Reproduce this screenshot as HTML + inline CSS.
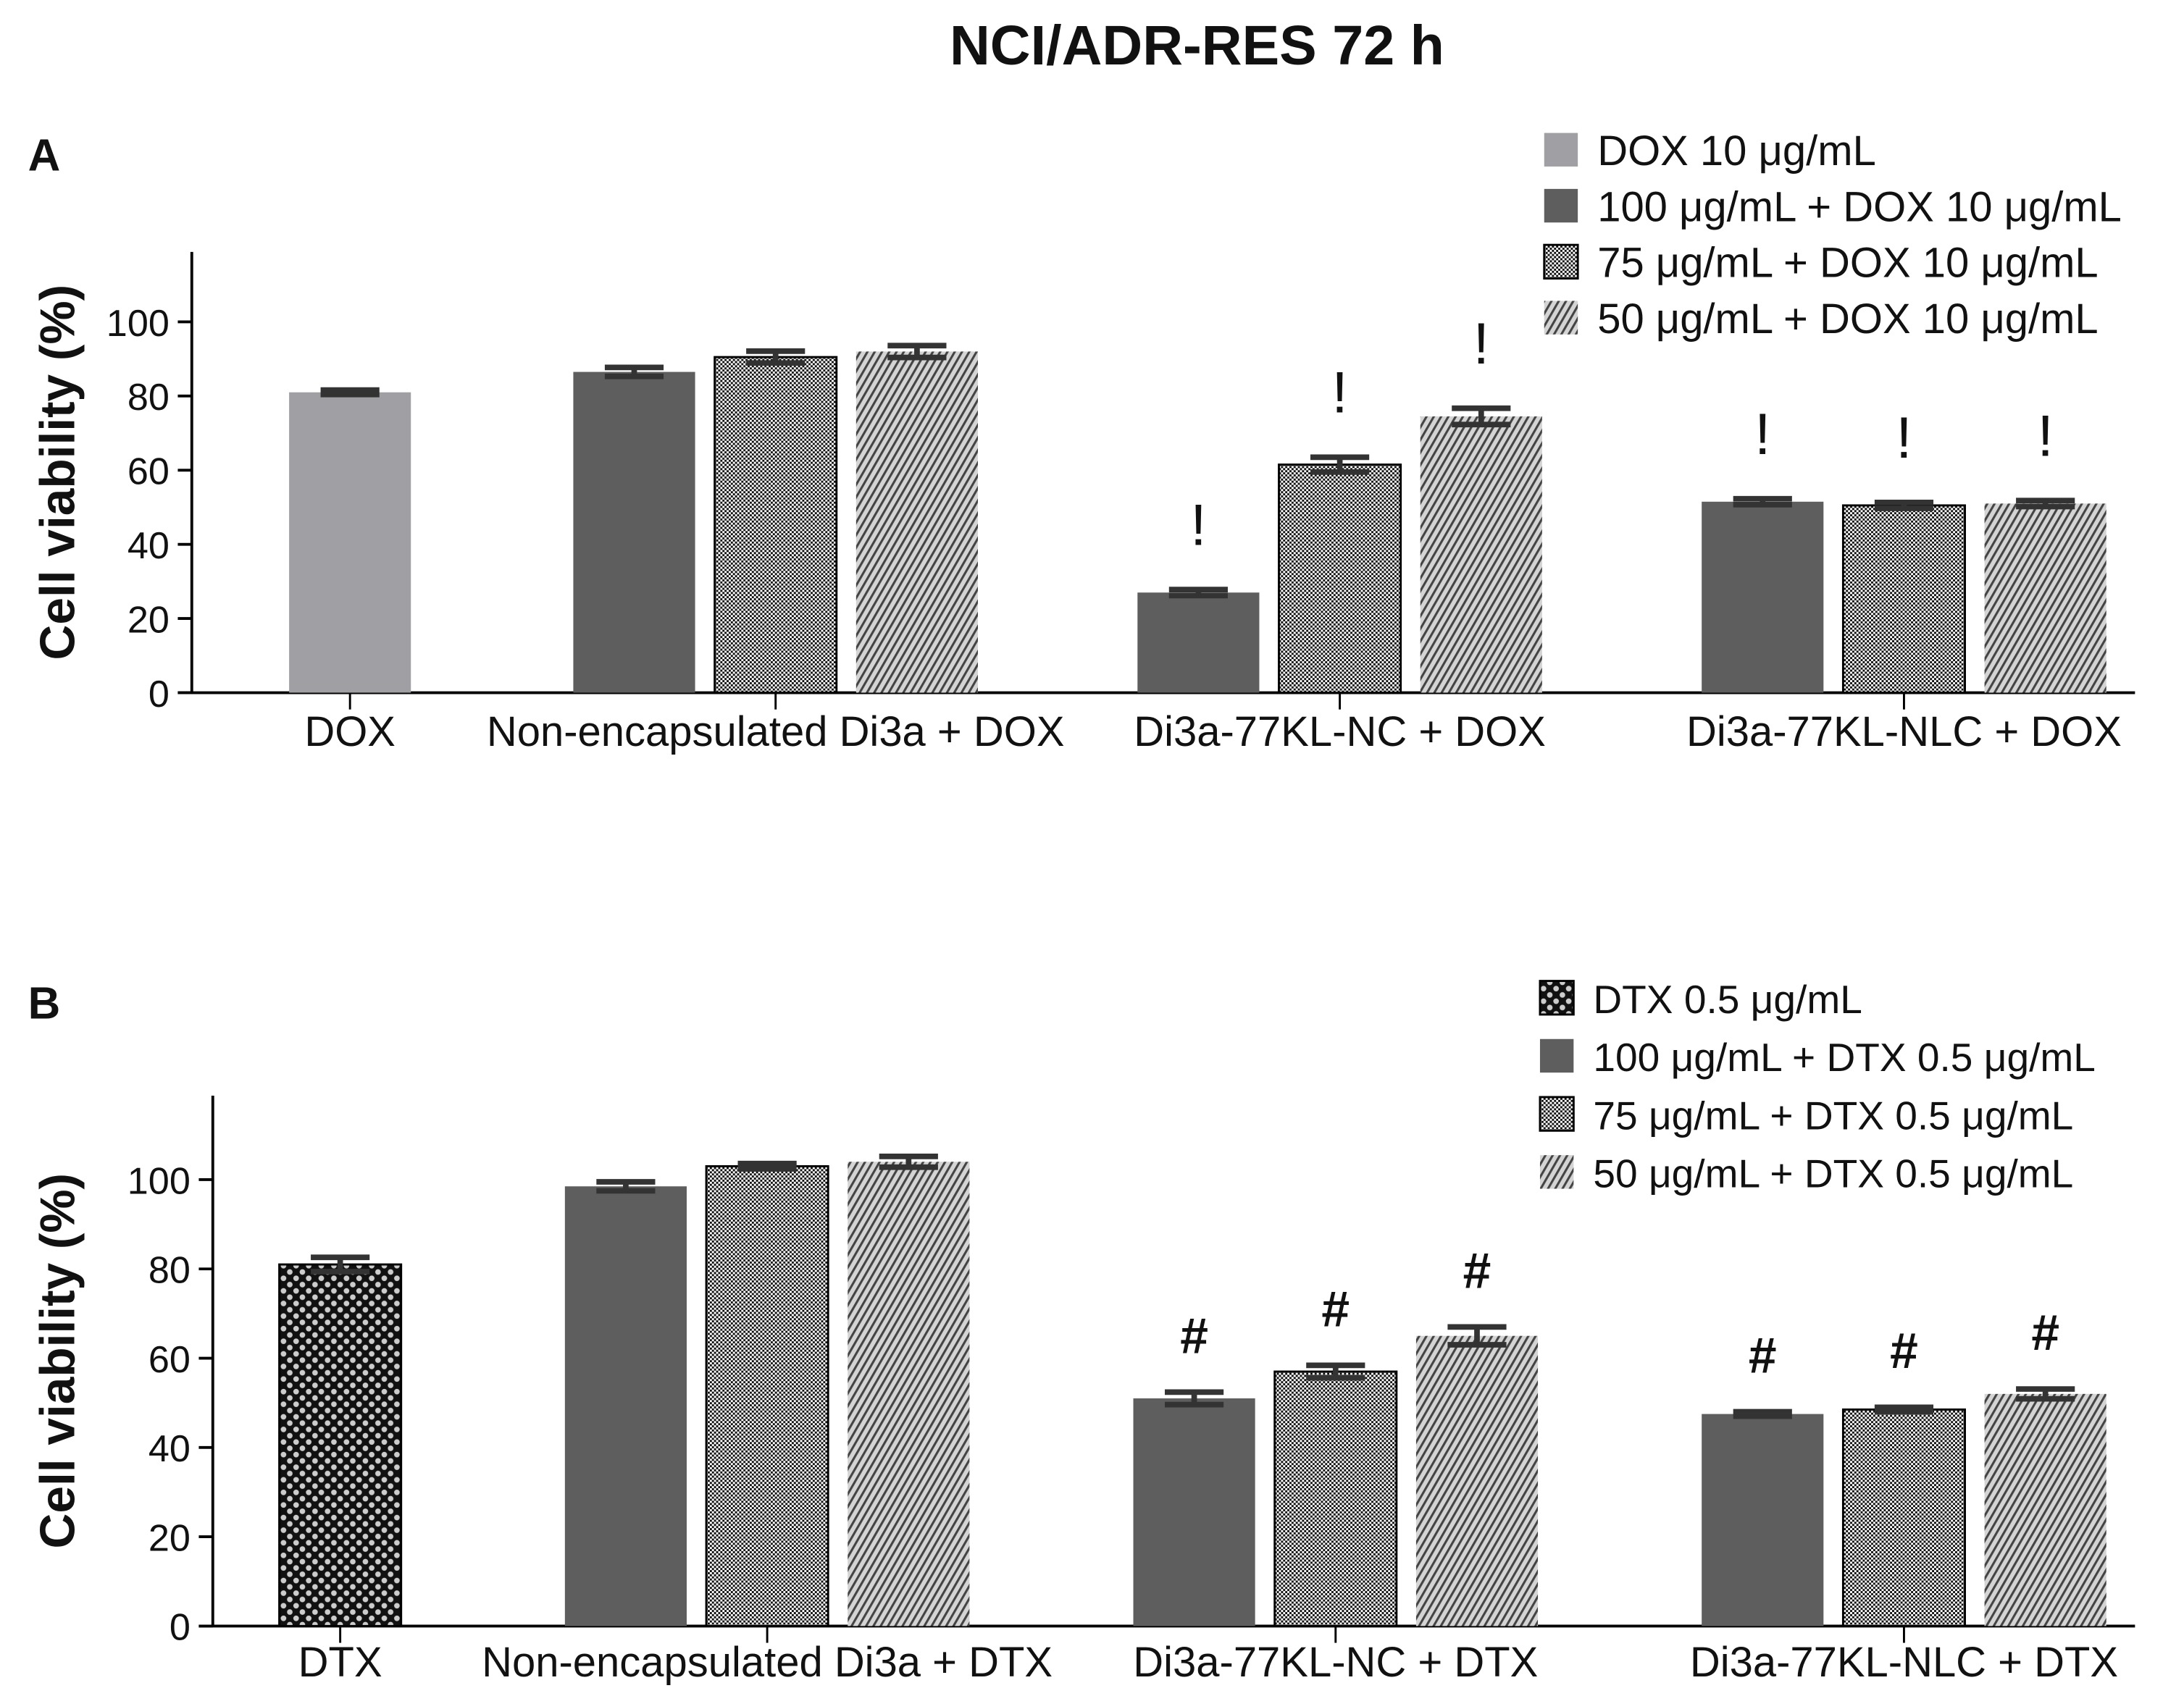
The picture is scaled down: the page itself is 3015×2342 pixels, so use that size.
<!DOCTYPE html>
<html><head><meta charset="utf-8"><style>
html,body{margin:0;padding:0;background:#fff;}
svg{display:block;}
text{font-family:"Liberation Sans",Arial,sans-serif;fill:#111;}
</style></head><body>
<svg id="fig" width="3015" height="2342" viewBox="0 0 1560 1212" preserveAspectRatio="none" xmlns="http://www.w3.org/2000/svg">
<defs>
<pattern id="checker" patternUnits="userSpaceOnUse" width="3" height="3"><rect width="3" height="3" fill="#fff"/><rect width="1.5" height="1.5" fill="#111"/><rect x="1.5" y="1.5" width="1.5" height="1.5" fill="#111"/></pattern>
<pattern id="hatch" patternUnits="userSpaceOnUse" width="4.5" height="4.5" patternTransform="rotate(30)"><rect width="4.5" height="4.5" fill="#d4d4d4"/><rect width="1.6" height="4.5" fill="#444"/></pattern>
<pattern id="diamond" patternUnits="userSpaceOnUse" width="9" height="9"><rect width="9" height="9" fill="#111"/><circle cx="4.5" cy="4.5" r="2" fill="#ccc"/><circle cx="0" cy="0" r="2" fill="#ccc"/><circle cx="9" cy="0" r="2" fill="#ccc"/><circle cx="0" cy="9" r="2" fill="#ccc"/><circle cx="9" cy="9" r="2" fill="#ccc"/></pattern>
</defs>
<text x="855" y="46" font-size="40" font-weight="bold" text-anchor="middle">NCI/ADR-RES 72 h</text>
<text x="20" y="122" font-size="32" font-weight="bold">A</text>
<text x="20" y="728" font-size="32" font-weight="bold">B</text>
<g id="chartA"></g>
<g id="chartB"></g>
</svg>
<script>
// Panel A data
const catsA = ["DOX","Non-encapsulated Di3a + DOX","Di3a-77KL-NC + DOX","Di3a-77KL-NLC + DOX"];
const valsA = [[81],[86.5,90.5,92],[27,61.5,74.5],[51.5,50.5,51]];
const errsA = [[0.6],[1.2,1.6,1.6],[0.8,2,2.2],[0.8,0.8,0.8]];
const marksA = [[""],["","",""],["!","!","!"],["!","!","!"]];
const legendA = ["DOX 10 μg/mL","100 μg/mL + DOX 10 μg/mL","75 μg/mL + DOX 10 μg/mL","50 μg/mL + DOX 10 μg/mL"];
// Panel B data
const catsB = ["DTX","Non-encapsulated Di3a + DTX","Di3a-77KL-NC + DTX","Di3a-77KL-NLC + DTX"];
const valsB = [[81],[98.5,103,104],[51,57,65],[47.5,48.5,52]];
const errsB = [[1.6],[1,0.6,1.2],[1.4,1.4,2],[0.5,0.5,1.1]];
const marksB = [[""],["","",""],["#","#","#"],["#","#","#"]];
const legendB = ["DTX 0.5 μg/mL","100 μg/mL + DTX 0.5 μg/mL","75 μg/mL + DTX 0.5 μg/mL","50 μg/mL + DTX 0.5 μg/mL"];
const ticks = [0,20,40,60,80,100];

const NS="http://www.w3.org/2000/svg";
function mk(tag,attrs,parent){const e=document.createElementNS(NS,tag);for(const k in attrs)e.setAttribute(k,attrs[k]);parent.appendChild(e);return e;}

function draw(g,cfg,cats,vals,errs,marks,legend,fills,firstFill){
  const y=v=>cfg.y0-(v/100)*cfg.h100;
  const ax=mk('line',{x1:cfg.ax,y1:cfg.top,x2:cfg.ax,y2:cfg.y0,stroke:'#000','stroke-width':2},g);
  
  
  const xl=mk('line',{x1:cfg.ax-10,y1:cfg.y0,x2:cfg.xend,y2:cfg.y0,stroke:'#000','stroke-width':2},g);
  
  
  ticks.forEach(t=>{
    const l=mk('line',{x1:cfg.ax-10,y1:y(t),x2:cfg.ax,y2:y(t),stroke:'#000','stroke-width':2},g);
    
    
    const tx=mk('text',{x:cfg.ax-16,y:y(t)+10,'font-size':27,'text-anchor':'end'},g);
    tx.textContent=t;
    
    
  });
  const yt=mk('text',{x:0,y:0,'font-size':35,'font-weight':'bold','text-anchor':'middle',transform:`translate(53,${(cfg.y0+cfg.top)/2}) rotate(-90)`},g);
  yt.textContent='Cell viability (%)';
  
  
  const bw=cfg.bw, step=cfg.step;
  cats.forEach((c,ci)=>{
    const cx=cfg.centers[ci];
    const n=vals[ci].length;
    vals[ci].forEach((v,bi)=>{
      const x=cx+(bi-(n-1)/2)*step-bw/2;
      const fill=(ci===0)?firstFill:fills[bi];
      const stroke=(fill.startsWith('url(#checker')||fill.startsWith('url(#diamond'))?'#000':'none';
      const r=mk('rect',{x:x,y:y(v),width:bw,height:y(0)-y(v),fill:fill,stroke:stroke,'stroke-width':1.5},g);
      
      
      const e=errs[ci][bi], mx=x+bw/2;
      const eb=mk('path',{d:`M${mx-21},${y(v+e)}H${mx+21}M${mx-21},${y(v-e)}H${mx+21}M${mx},${y(v+e)}V${y(v-e)}`,stroke:'#333','stroke-width':4,fill:'none'},g);
      
      
      if(marks[ci][bi]){
        const isBang=marks[ci][bi]==='!';
        const m=mk('text',{x:mx,y:y(v+e)-cfg.markGap,'font-size':isBang?42:36,'text-anchor':'middle','font-weight':isBang?'normal':'bold'},g);
        m.textContent=marks[ci][bi];
        
        
      }
    });
    const tk=mk('line',{x1:cx,y1:cfg.y0,x2:cx,y2:cfg.y0+12,stroke:'#000','stroke-width':1.5},g);
    
    
    const lb=mk('text',{x:cx,y:cfg.y0+cfg.lblOff,'font-size':30,'text-anchor':'middle'},g);
    lb.textContent=c;
    
    
  });
  const lf=[firstFill].concat(fills);
  legend.forEach((t,i)=>{
    const yy=cfg.legY+i*cfg.legStep;
    const sw=mk('rect',{x:cfg.legX,y:yy-12,width:24,height:24,fill:lf[i],stroke:(lf[i].includes('checker')||lf[i].includes('diamond'))?'#000':'none','stroke-width':1.5},g);
    
    
    const tx=mk('text',{x:cfg.legX+38,y:yy+11,'font-size':cfg.legFont},g);
    tx.textContent=t;
    
    
  });
}
const fills=['#5e5e5e','url(#checker)','url(#hatch)'];
draw(document.getElementById('chartA'),{ax:137,y0:495,h100:265,top:180,xend:1525,bw:87,step:101,centers:[250,554,957,1360],markGap:32,lblOff:38,legX:1103,legY:107,legStep:40,legFont:30},catsA,valsA,errsA,marksA,legendA,fills,'#a0a0a4');
draw(document.getElementById('chartB'),{ax:152,y0:1162,h100:319,top:783,xend:1525,bw:87,step:101,centers:[243,548,954,1360],markGap:28,lblOff:36,legX:1100,legY:713,legStep:41.5,legFont:28.5},catsB,valsB,errsB,marksB,legendB,fills,'url(#diamond)');
</script>
</body></html>
